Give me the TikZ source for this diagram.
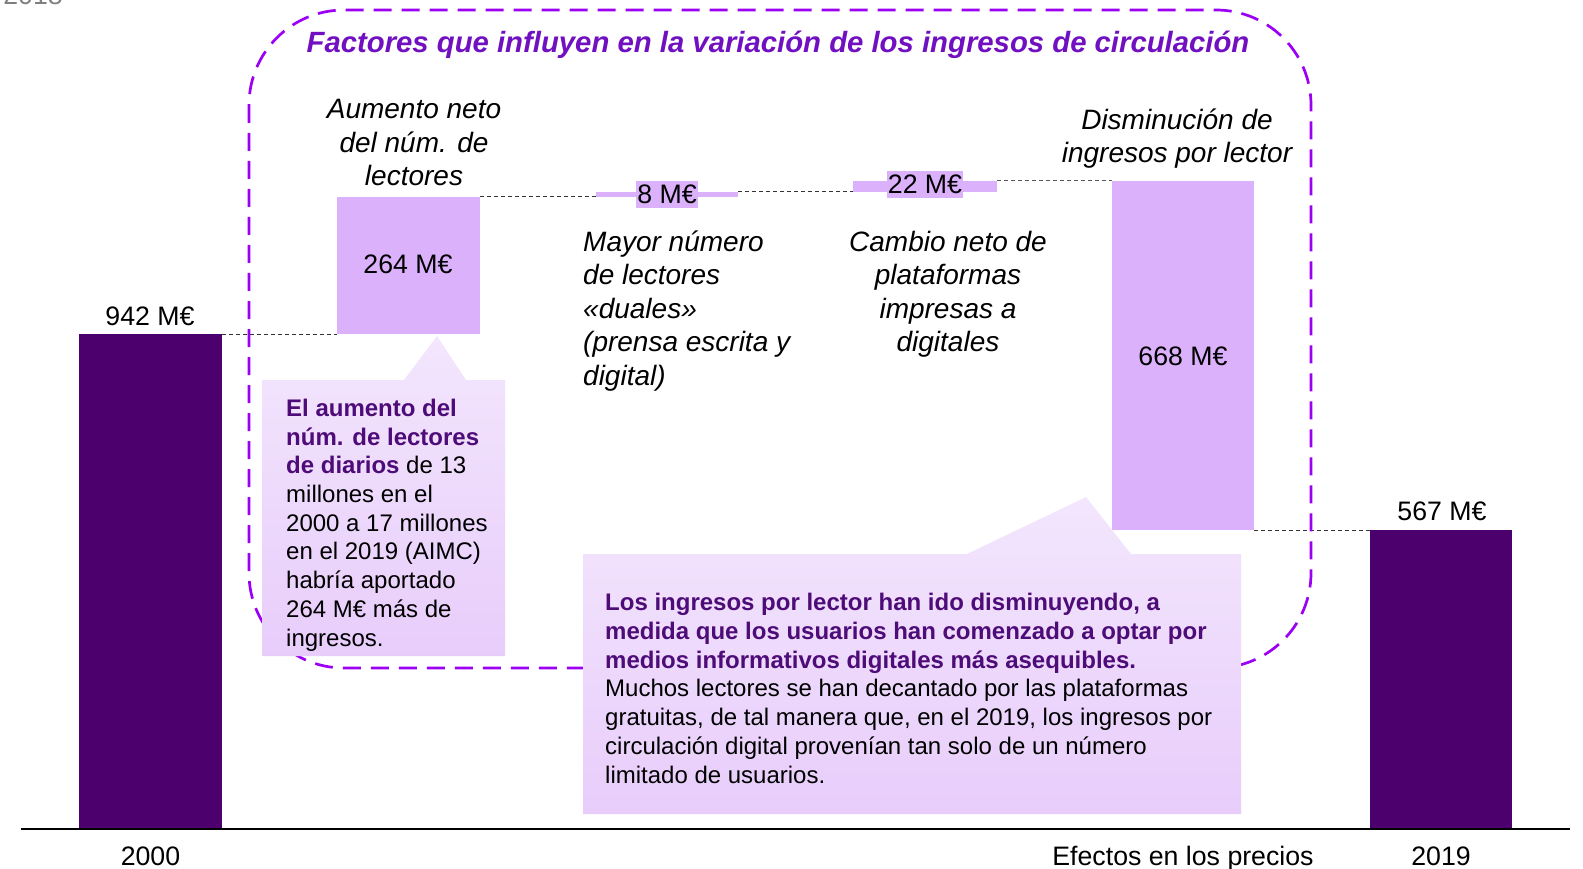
\documentclass[tikz,border=0pt]{standalone}
\usepackage{fontspec}
\setmainfont{Liberation Sans}
\definecolor{darkbar}{HTML}{4B006E}
\definecolor{lightbar}{HTML}{DCB1FC}
\definecolor{calltop}{HTML}{F3E6FD}
\definecolor{callbot}{HTML}{E8CDFB}
\definecolor{boldtxt}{HTML}{4E0C78}
\definecolor{titlecol}{HTML}{7010C0}
\definecolor{bordercol}{HTML}{9B00F5}
\definecolor{grey2018}{HTML}{7F7F7F}
\newcommand\mainsz{\fontsize{26.7pt}{33.5pt}\selectfont}
\newcommand\italsz{\fontsize{28pt}{33.5pt}\selectfont\itshape}
\newcommand\callsz{\fontsize{24pt}{28.7pt}\selectfont}
\newcommand\bt[1]{\textcolor{boldtxt}{\bfseries #1}}
\begin{document}
\begin{tikzpicture}[x=1pt,y=-1pt,
  darkbox/.style={fill=darkbar,draw=none,inner sep=0pt,outer sep=0pt},
  lightbox/.style={fill=lightbar,draw=none,inner sep=0pt,outer sep=0pt},
  lbl/.style={font=\mainsz,inner sep=0pt,anchor=base},
  multilbl/.style={font=\italsz,inner sep=0pt,anchor=base,align=center},
  vallbl/.style={font=\mainsz,fill=lightbar,inner xsep=1pt,inner ysep=4pt,anchor=base},
  conn/.style={draw=black!80,line width=1pt,dash pattern=on 4pt off 3pt},
  callout/.style={shade,top color=calltop,bottom color=callbot,draw=none},
  calltext/.style={font=\callsz,inner sep=0pt,anchor=base west,align=left}
]
\useasboundingbox (0,0) rectangle (1583,869);

% cut-off text at the top left
\node[font=\mainsz,text=grey2018,inner sep=0pt,anchor=base east] (yr) at (63,5) {2018};

% bars
\node[darkbox,minimum width=143pt,minimum height=495pt] (b2000) at (150.5,581.5) {};
\node[lightbox,minimum width=143pt,minimum height=137pt] (b264) at (408.5,265.5) {};
\node[lightbox,minimum width=142pt,minimum height=5pt] (b8) at (667,194.5) {};
\node[lightbox,minimum width=144pt,minimum height=11pt] (b22) at (925,186.5) {};
\node[lightbox,minimum width=142pt,minimum height=349pt] (b668) at (1183,355.5) {};
\node[darkbox,minimum width=142pt,minimum height=299pt] (b2019) at (1441,679.5) {};

% connectors
\draw[conn] (b2000.north east) -- (b264.south west);
\draw[conn] (b264.north east) -- (b8.south west);
\draw[conn] (b8.north east) -- (b22.south west);
\draw[conn,draw=black!65] (b22.north east) -- (b668.north west);
\draw[conn] (b668.south east) -- (b2019.north west);

% axis
\coordinate (axL) at (21,829);
\coordinate (axR) at (1570,829);
\draw[line width=2pt] (axL) -- (axR);

% dashed frame
\draw[bordercol,line width=2.7pt,dash pattern=on 18pt off 10pt,rounded corners=95pt]
  (249,10) rectangle (1311,668);
\node[font=\fontsize{29.3pt}{32pt}\selectfont\bfseries\itshape,text=titlecol,inner sep=0pt,anchor=base]
  (title) at (778,53) {Factores que influyen en la variación de los ingresos de circulación};

% value labels
\node[lbl] (v942) at (150,325) {942 M€};
\node[lbl] (v264) at (408,274) {264 M€};
\node[vallbl] (v8) at (667,204) {8 M€};
\node[vallbl] (v22) at (925,194) {22 M€};
\node[lbl] (v668) at (1183,365) {668 M€};
\node[lbl] (v567) at (1442,520) {567 M€};

% category labels (anchor = baseline of the last line)
\node[multilbl] (c1) at (414,186) {Aumento neto\\del núm. de\\lectores};
\node[multilbl,align=left,anchor=base west] (c2) at (583,385)
  {Mayor número\\de lectores\\«duales»\\(prensa escrita y\\digital)};
\node[multilbl] (c3) at (948,351.5) {Cambio neto de\\plataformas\\impresas a\\digitales};
\node[multilbl] (c4) at (1177,163) {Disminución de\\ingresos por lector};

% axis labels
\node[lbl] (x2000) at (150.5,865) {2000};
\node[lbl] (xef) at (1183,865) {Efectos en los precios};
\node[lbl] (x2019) at (1441,865) {2019};

% callouts
\path[callout] (262,380) -- (404,380) -- (437,336) -- (466,380) -- (505,380)
  -- (505,656) -- (262,656) -- cycle;
\node[calltext] (t1) at (286,646)
  {\bt{El aumento del}\\\bt{núm. de lectores}\\\bt{de diarios} de 13\\millones en el\\2000 a 17 millones\\en el 2019 (AIMC)\\habría aportado\\264 M€ más de\\ingresos.};

\path[callout] (583,554) -- (967,554) -- (1086,497) -- (1131,554) -- (1241,554)
  -- (1241,814) -- (583,814) -- cycle;
\node[calltext] (t2) at (605,783)
  {\bt{Los ingresos por lector han ido disminuyendo, a}\\\bt{medida que los usuarios han comenzado a optar por}\\\bt{medios informativos digitales más asequibles.}\\Muchos lectores se han decantado por las plataformas\\gratuitas, de tal manera que, en el 2019, los ingresos por\\circulación digital provenían tan solo de un número\\limitado de usuarios.};
\end{tikzpicture}
\end{document}
